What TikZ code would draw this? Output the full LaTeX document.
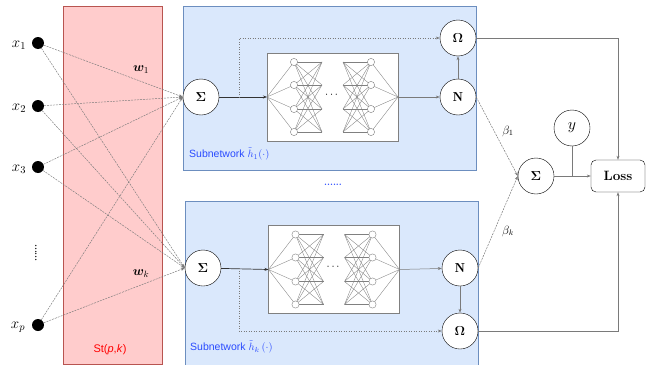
\RequirePackage{fix-cm}
\documentclass[tikz,border=0pt]{standalone}
\usepackage{amsmath,amssymb,bm}
\usepackage{fontspec}
\newfontfamily\arialf{Liberation Sans}
\usetikzlibrary{arrows.meta}
\definecolor{pinkfill}{HTML}{FFCCCC}
\definecolor{pinkdraw}{HTML}{B85450}
\definecolor{bluefill}{HTML}{DAE8FC}
\definecolor{bluedraw}{HTML}{6C8EBF}
\definecolor{lgray}{HTML}{7A7A7A}
\definecolor{labblue}{HTML}{2A4BFF}
\begin{document}
\begin{tikzpicture}[x=1pt,y=-1pt,
  tip/.style={-{Stealth[length=4pt,width=3pt]}},
  dotnode/.style={circle,fill=black,minimum size=12pt,inner sep=0pt},
  opnode/.style={circle,draw=black,fill=white,minimum size=36pt,inner sep=0pt,font=\fontsize{13}{15}\selectfont\bfseries},
  conn/.style={draw=lgray,line width=0.5pt,tip},
  inconn/.style={draw=lgray,line width=0.45pt,dashed,dash pattern=on 2pt off 1pt,tip},
  region/.style={line width=0.8pt},
  xlab/.style={font=\fontsize{15}{17}\selectfont},
  nn/.pic={
    \node[draw=gray,fill=white,minimum width=131pt,minimum height=88pt,inner sep=0pt] (-box) at (0,0) {};
    \coordinate (-in) at (-65.5,0);
    \coordinate (-out) at (65.5,0);
    \foreach \a in {-35,-12,12,35}{
      \draw[gray,line width=0.35pt] (-in) -- (-38.5,\a);
      \draw[gray,line width=0.35pt] (-out) -- (38.5,\a);
      \foreach \b in {-35,-12,12,35}{
        \draw[gray,line width=0.35pt] (-38.5,\a) -- (-10.5,\b);
        \draw[gray,line width=0.35pt] (10.5,\a) -- (38.5,\b);
      }
    }
    \foreach \a in {-35,-12,12,35}{
      \draw[gray,fill=white,line width=0.4pt] (-38.5,\a) circle (3.6);
      \draw[gray,fill=white,line width=0.4pt] (38.5,\a) circle (3.6);
    }
    \node[font=\bfseries\fontsize{11}{11}\selectfont] at (0,-2) {$\cdots$};
  }]
\useasboundingbox (0,0) rectangle (653,364);
% regions
\node[region,draw=pinkdraw,fill=pinkfill,minimum width=99pt,minimum height=358pt,inner sep=0pt] (st) at (112.5,185) {};
\node[region,draw=bluedraw,fill=bluefill,minimum width=293pt,minimum height=164pt,inner sep=0pt] (sub1) at (329.5,88) {};
\node[region,draw=bluedraw,fill=bluefill,minimum width=293pt,minimum height=170pt,inner sep=0pt] (sub2) at (331.5,286) {};
\node[text=red,font=\arialf\fontsize{11}{13}\selectfont] (stlab) at (110,350) {St(\textit{p},\textit{k})};
\node[text=labblue,font=\arialf\fontsize{10.5}{12}\selectfont,anchor=west,inner sep=1pt] (sl1) at (188,154) {Subnetwork $\tilde{h}_1(\cdot)$};
\node[text=labblue,font=\arialf\fontsize{10.5}{12}\selectfont,anchor=west,inner sep=1pt] (sl2) at (189,347) {Subnetwork $\tilde{h}_k\,(\cdot)$};
\node[text=labblue,font=\bfseries\fontsize{9}{9}\selectfont] (mid) at (333,185) {......};
% inputs
\node[dotnode] (x1) at (38,43) {};
\node[dotnode] (x2) at (38,106) {};
\node[dotnode] (x3) at (38,167) {};
\node[dotnode] (xp) at (38,325) {};
\node[xlab] (lx1) at (19,45) {$x_1$};
\node[xlab] (lx2) at (19,108) {$x_2$};
\node[xlab] (lx3) at (19,169) {$x_3$};
\node[xlab] (lxp) at (18,327) {$x_p$};
\node[rotate=90,font=\bfseries\fontsize{9}{9}\selectfont] (vdots) at (36,253) {......};
% sums
\node[opnode] (s1) at (201,97) {$\bm{\Sigma}$};
\node[opnode] (s2) at (203,268) {$\bm{\Sigma}$};
% input connections
\foreach \i in {x1,x2,x3,xp}{
  \draw[inconn] (\i) -- (s1.west);
  \draw[inconn] (\i) -- (s2.west);
}
\node[font=\fontsize{13}{15}\selectfont] (w1) at (141,70) {$\bm{w}_1$};
\node[font=\fontsize{13}{15}\selectfont] (wk) at (141,274) {$\bm{w}_k$};
% nn blocks
\pic (nnA) at (332.5,97) {nn};
\pic (nnB) at (334,269.5) {nn};
% N and Omega
\node[opnode] (n1) at (458,97) {$\mathbf{N}$};
\node[opnode] (o1) at (458,38) {$\bm{\Omega}$};
\node[opnode] (n2) at (460,268) {$\mathbf{N}$};
\node[opnode] (o2) at (460,331) {$\bm{\Omega}$};
\coordinate (tap1) at (239,97);
\coordinate (tap2) at (239,268);
\draw[conn,draw=black!80,line width=0.7pt] (s1) -- (nnA-in);
\draw[conn,draw=black!80,line width=0.7pt] (s2) -- (nnB-in);
\draw[conn] (nnA-out) -- (n1);
\draw[conn] (nnB-out) -- (n2);
\draw[conn,dotted] (tap1) |- (o1);
\draw[conn,dotted] (tap2) |- (o2);
\draw[conn] (n1) -- (o1);
\draw[conn] (n2) -- (o2);
% output part
\node[opnode] (so) at (536,176) {$\bm{\Sigma}$};
\node[circle,draw=black,fill=white,minimum size=36pt,inner sep=0pt,font=\fontsize{16}{18}\selectfont] (yy) at (572,128) {$y$};
\node[draw=black,fill=white,rounded corners=5pt,minimum width=54pt,minimum height=32pt,inner sep=0pt,font=\fontsize{13.5}{15}\selectfont\bfseries] (loss) at (618,176) {Loss};
\coordinate (jn) at (572,176);
\draw[conn,dashed,dash pattern=on 2pt off 1pt] (n1.east) -- (so.west);
\draw[conn,dashed,dash pattern=on 2pt off 1pt] (n2.east) -- (so.west);
\node[font=\fontsize{12}{14}\selectfont] (b1) at (508,131) {$\beta_1$};
\node[font=\fontsize{12}{14}\selectfont] (bk) at (508,231) {$\beta_k$};
\draw[conn] (so) -- (loss);
\draw[draw=lgray,line width=0.5pt] (yy) -- (jn);
\draw[conn] (o1) -| (loss);
\draw[conn] (o2) -| (loss);
\end{tikzpicture}
\end{document}
